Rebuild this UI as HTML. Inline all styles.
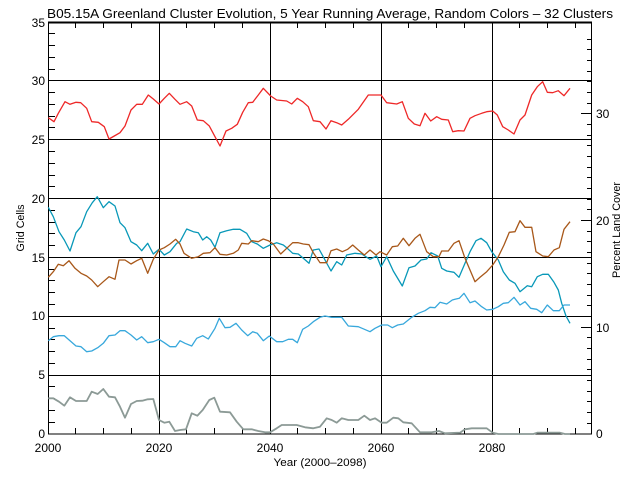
<!DOCTYPE html>
<html><head><meta charset="utf-8"><style>
html,body{margin:0;padding:0;background:#fff;}
svg{display:block;}
text{font-family:"Liberation Sans",sans-serif;fill:#000;}
</style></head><body>
<svg width="640" height="480" viewBox="0 0 640 480" xmlns="http://www.w3.org/2000/svg">
<rect width="640" height="480" fill="#fff"/>
<text x="330" y="18" font-size="13" text-anchor="middle" textLength="566" lengthAdjust="spacingAndGlyphs">B05.15A Greenland Cluster Evolution, 5 Year Running Average, Random Colors – 32 Clusters</text>
<g stroke="#000" stroke-width="1" fill="none" shape-rendering="crispEdges">
<path d="M48.5,375.5H592M48.5,316.5H592M48.5,257.5H592M48.5,198.5H592M48.5,139.5H592M48.5,80.5H592"/>
<path d="M159.5,22V434M270.5,22V434M381.5,22V434M492.5,22V434"/>
<rect x="48.5" y="22.5" width="543" height="411.5"/>
<path d="M48,22.5H592" stroke-width="2"/>
<path d="M48,422.5h7M48,410.5h7M48,398.5h7M48,386.5h7M48,363.5h7M48,351.5h7M48,339.5h7M48,328.5h7M48,304.5h7M48,292.5h7M48,280.5h7M48,269.5h7M48,245.5h7M48,233.5h7M48,222.5h7M48,210.5h7M48,186.5h7M48,175.5h7M48,163.5h7M48,151.5h7M48,127.5h7M48,116.5h7M48,104.5h7M48,92.5h7M48,69.5h7M48,57.5h7M48,45.5h7M48,33.5h7"/>
<path d="M592,423.5h-5M592,412.5h-5M592,401.5h-5M592,391.5h-5M592,380.5h-5M592,369.5h-5M592,359.5h-5M592,348.5h-5M592,337.5h-5M592,327.5h-11M592,316.5h-5M592,305.5h-5M592,295.5h-5M592,284.5h-5M592,273.5h-5M592,263.5h-5M592,252.5h-5M592,241.5h-5M592,231.5h-5M592,220.5h-11M592,209.5h-5M592,199.5h-5M592,188.5h-5M592,177.5h-5M592,167.5h-5M592,156.5h-5M592,145.5h-5M592,135.5h-5M592,124.5h-5M592,113.5h-11M592,103.5h-5M592,92.5h-5M592,81.5h-5M592,71.5h-5M592,60.5h-5M592,49.5h-5M592,39.5h-5"/>
<path d="M75.5,434v-6M103.5,434v-6M131.5,434v-6M186.5,434v-6M214.5,434v-6M242.5,434v-6M297.5,434v-6M325.5,434v-6M353.5,434v-6M408.5,434v-6M436.5,434v-6M464.5,434v-6M519.5,434v-6M547.5,434v-6M575.5,434v-6"/>
<path d="M75.5,22v6M103.5,22v6M131.5,22v6M186.5,22v6M214.5,22v6M242.5,22v6M297.5,22v6M325.5,22v6M353.5,22v6M408.5,22v6M436.5,22v6M464.5,22v6M519.5,22v6M547.5,22v6M575.5,22v6"/>
</g>
<g font-size="12" text-anchor="end">
<text x="45" y="438">0</text>
<text x="45" y="379">5</text>
<text x="45" y="320">10</text>
<text x="45" y="262">15</text>
<text x="45" y="203">20</text>
<text x="45" y="144">25</text>
<text x="45" y="85">30</text>
<text x="45" y="27">35</text>
</g>
<g font-size="12" text-anchor="start">
<text x="596" y="438">0</text>
<text x="596" y="332">10</text>
<text x="596" y="225">20</text>
<text x="596" y="118">30</text>
</g>
<g font-size="12" text-anchor="middle">
<text x="48" y="452">2000</text>
<text x="159" y="452">2020</text>
<text x="270" y="452">2040</text>
<text x="381" y="452">2060</text>
<text x="492" y="452">2080</text>
</g>
<text x="320" y="466" font-size="11" text-anchor="middle" textLength="93" lengthAdjust="spacingAndGlyphs">Year (2000–2098)</text>
<text transform="translate(24,228) rotate(-90)" font-size="11" text-anchor="middle" textLength="47" lengthAdjust="spacingAndGlyphs">Grid Cells</text>
<text transform="translate(620,230) rotate(-90)" font-size="11" text-anchor="middle" textLength="96" lengthAdjust="spacingAndGlyphs">Percent Land Cover</text>
<g fill="none" stroke-width="1.3" stroke-linejoin="round">
<polyline stroke="#ee2828" points="48.3,117.7 54,121.7 58.3,113.3 65,101.7 70,104.3 76,102.3 80.7,102.7 86.7,108.3 91.7,121.7 98.3,122.3 104.3,126.7 109,139 114.3,136 120,132.7 125,126 131,110 136.7,104.3 142.3,104.3 148.3,95 153.3,99 159,104 164.3,98.3 169.3,93.3 175,99.3 180,104.3 186.7,101.7 191.7,106 197.3,120 203.3,120.7 209.3,126 215,136.7 220,146 226,131 231.7,128.3 237.3,124.3 242.7,112.3 248.3,102.7 252.7,102.3 258.3,95 263.3,88.3 270.7,96 276.7,100 286.7,101 291.7,104 297.3,98.3 302.7,101.7 308.3,106.7 313.3,120.7 320,121.7 326,129 331,120.7 336.7,122.7 341.7,125 348.3,119.3 358.3,109.3 368.3,95 381,95 386.7,102.7 396.7,104 402.3,101.7 408.3,118.3 414.3,124 420,125.7 425,113.3 430.7,121 436.7,116.7 441.7,119.3 448.3,120 452.7,131.7 458.3,130.7 464,131 470,118.3 475,115.7 481.7,113.3 486.7,111.7 492.7,111 497.3,115 502.7,126.7 508.3,130 514,134 520,120 525,115 531.7,95 537.3,86.7 542.7,81.7 547.3,92.3 552.7,92.7 558.3,90.7 564,95.7 570,88.3"/>
<polyline stroke="#0898b8" points="48.3,207.3 53.3,216.7 59,231.7 64.3,240 70,251 76,232.7 81,226.7 86.7,211.7 92.3,202.7 97.3,196.7 103.3,207.7 109,201.7 115,206 120,222.7 125,227.7 131,241.7 136.7,245 141.7,250.7 147.7,243.3 153.3,254 159,249.3 164.3,255 170,251.7 176.7,243.3 180,241.7 186.7,229 193.3,231.7 198.3,232.7 202.7,240 206.7,236.7 210.7,240 215,247.3 220,232.7 226.7,230.7 233.3,229.3 240,229.3 246.7,233.3 251.7,241.7 257.3,244 263.3,248.3 270,245 276.7,242.7 283.3,245 287.3,248.3 292.7,253.3 298.3,254 303.3,258.3 309,263.3 313.3,250 319,249 325,260 331,271 336.7,261.7 341.7,265 346.7,255 355,253.3 361.7,254 370,259.3 376.7,256 381,266.7 386.7,256.7 393.3,271 402.3,286 409,267.7 415,266 421,260 426.7,259 431,252.7 437.7,256 441.7,268.3 446.7,271 454,272.3 459,277.3 465,263.3 470,251.7 476,240.7 481,238.3 486.7,242.7 491.7,251.7 498.3,260 503.3,271.7 509.3,280 515,283.3 520,291.7 527.3,285.7 531.7,286.7 537.3,276.7 542.7,274.3 548.3,274.3 554,282.3 558.3,290 561.7,303.3 566,316 570,323.3"/>
<polyline stroke="#a8581a" points="48.3,277.3 53.3,271.7 58.3,264.3 63.3,265.7 69,260.7 75,268.3 81,273.3 86.7,276 91.7,280 97.7,286.7 103.3,281.7 109,276.7 115,279.3 119,260 125,260 131,264 136.7,260.7 141.7,258.3 147.7,273.3 153.3,259.3 159,250 164.3,247.7 170,244 175.7,239.3 180,244 184,253.3 191.7,258.3 198.3,256.7 203.3,253.3 210,252.7 215,247.7 220,254.3 226.7,255 233.3,253.3 238.3,250 241.7,243.3 248.3,244 251.7,240.7 258.3,241.7 263.3,239 268.3,240.7 273.3,244 280.7,254 286.7,248.3 292.7,242.7 298.3,242.7 303.3,244 309,244.7 313.3,252.7 320,262.7 326.7,262.7 331,250.7 336.7,249 342.3,251.7 347.7,249.3 352.7,245 358.3,250 364.3,255 370,250 376,255 380,251.7 386.7,255 392.3,246.7 397.7,246 403.3,238.3 409,245.7 415,238.3 420,234.3 426.7,251.7 433.3,256.7 439,256.7 441.7,251 448.3,251 454,243.3 459,240.7 465,258.3 470,270 475,281.7 480,277.3 486.7,271.7 492.7,265 498.3,256.7 504,245 509.3,232.3 515,231.7 520,220.7 525,227.3 531.7,227.3 536,251.7 542.7,256 548.3,256.7 554,250 559.3,247.7 564,229.3 570,221.7"/>
<polyline stroke="#38a8dc" points="48.3,340.7 53.3,336.7 59,335.7 64.3,335.7 70,340.7 76,346 81,346.7 86.7,351.7 91.7,351 97.7,347.7 103.3,343.3 109,335.7 115,335 120,330.7 125,330.7 131,335 136.7,340 141.7,336.7 147.7,342.7 153.3,341.7 159,339.3 164.3,342.7 170,346.7 175.7,346.7 180,340.7 185,343.3 191.7,346 196.7,338.3 202.7,335.7 208.3,339 215,328.3 219.3,318.3 225,327.7 230,327.3 236,323.3 241.7,330 247.7,335.7 252.7,331.7 257.3,333.3 263.3,340.7 269.3,336 276.7,341.7 282.7,341.7 288.3,339.3 292.7,339.3 297.3,342.7 302.7,329.3 308.3,326 313.3,321.7 320,317.3 325,316 331.7,317.3 341.7,317.3 348.3,326 358.3,326.7 370,331.7 375,328.3 381.7,325 387.7,325 392.3,327.7 397.7,325 403.3,324 411.7,317.3 418.3,313.3 425,310.7 430,307.3 435,307.7 440,302.3 446.7,304 452.3,300 455,299.3 459.3,298.3 464,293.3 470,302.7 475,301 481.7,306.7 486.7,310 492.7,309.3 498.3,306.7 503.3,303.3 508.3,302.7 514,297.3 520,305 525,301.7 530.7,308.3 536.7,309.3 541.7,312.7 547.3,305 553.3,310.7 559.3,310.7 564,305 570,305"/>
<polyline stroke="#8c9a96" stroke-width="1.8" points="48.3,398.3 53.3,398.3 59,401.7 64.3,405.7 70,397.3 76,401 81,401 86.7,401 91.7,391.7 97.7,394 103.3,389 109,396.7 115,397.3 120,406.7 125,417.7 131,404 136.7,401 142.3,400.7 147.7,399.3 153.3,399 159,420 164.3,422.7 169.3,421.7 175,431 180,430 186,429.3 191.7,413.3 197.3,415.7 202.7,410 209.3,400 214.3,397.7 220,411.7 230,412.3 236.7,421.7 243.3,429.3 251.7,429.3 258.3,431 265,432.3 270,432.3 276.7,428.3 281.7,425 296.7,425 305,427.3 313.3,428.3 320,426.7 326.7,418.3 331.7,420 336.7,422.7 341.7,418.3 348.3,420 358.3,420 364.3,415.7 370,420 375,418.3 381.7,422.7 386.7,422.7 393.3,417.7 398.3,418.3 403.3,422.3 411.7,423.3 420,432.3 431.7,432.3 439,431 445,433.3 460,432.7 465,429.3 471.7,428.3 486.7,428.3 492.7,432.7 498.3,434 533.3,434 537.3,432.7 560,432.7 565,434 570,434"/>
</g>
</svg>
</body></html>
